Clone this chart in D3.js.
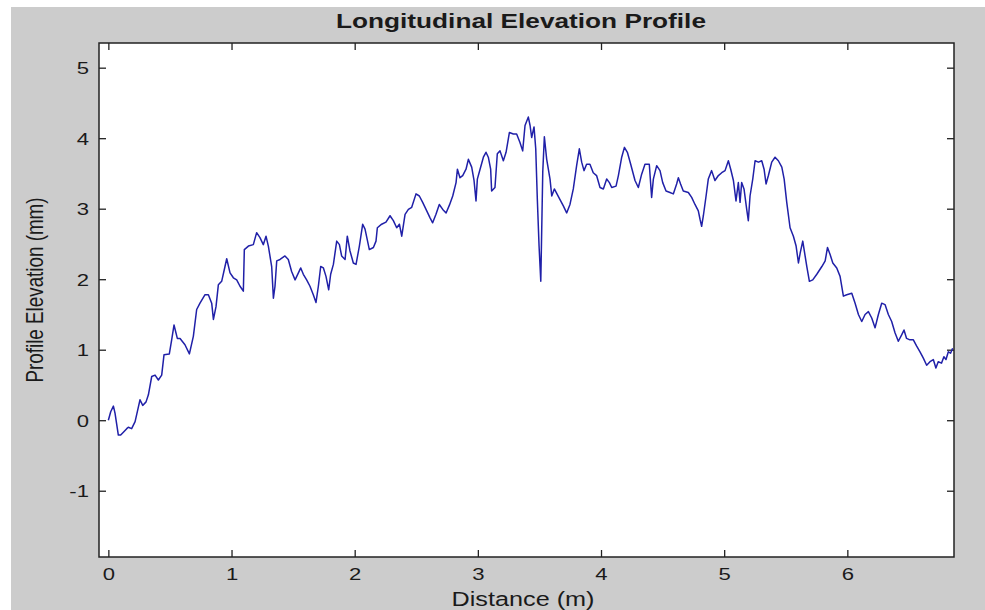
<!DOCTYPE html>
<html>
<head>
<meta charset="utf-8">
<script src="https://cdn.jsdelivr.net/npm/d3@7"></script>
<style>
  body { margin: 0; background: #fff; }
  text { font-family: "Liberation Sans", Arial, sans-serif; fill: #1a1a1a; }
</style>
</head>
<body>
<script>
// profile: distance (m) and elevation (mm)
var distance = [
  0.000, 0.019, 0.041, 0.054, 0.081, 0.100, 0.122, 0.149, 0.162, 0.189, 0.217, 0.244, 0.257, 0.279, 0.306, 0.325,
  0.352, 0.379, 0.406, 0.433, 0.452, 0.495, 0.514, 0.533, 0.560, 0.582, 0.622, 0.658, 0.690, 0.717, 0.744, 0.785,
  0.812, 0.839, 0.853, 0.874, 0.893, 0.920, 0.947, 0.961, 0.988, 1.015, 1.042, 1.069, 1.096, 1.104, 1.137, 1.177,
  1.204, 1.231, 1.258, 1.280, 1.299, 1.326, 1.340, 1.353, 1.367, 1.394, 1.434, 1.461, 1.488, 1.516, 1.543, 1.562,
  1.583, 1.610, 1.637, 1.664, 1.686, 1.705, 1.724, 1.746, 1.767, 1.789, 1.805, 1.827, 1.854, 1.876, 1.894, 1.922,
  1.940, 1.962, 1.989, 2.011, 2.038, 2.065, 2.084, 2.119, 2.152, 2.173, 2.184, 2.219, 2.254,
  2.287, 2.314, 2.341, 2.363, 2.382, 2.409, 2.436, 2.463, 2.498, 2.525, 2.552, 2.585, 2.612, 2.633, 2.660, 2.687,
  2.715, 2.742, 2.769, 2.796, 2.823, 2.834, 2.855, 2.877, 2.904, 2.923, 2.950, 2.969, 2.985, 2.996, 3.018, 3.045,
  3.066, 3.085, 3.104, 3.112, 3.139, 3.158, 3.180, 3.207, 3.229, 3.256, 3.288, 3.315, 3.342, 3.364, 3.383, 3.410,
  3.424, 3.437, 3.456, 3.470, 3.483, 3.497, 3.511, 3.527, 3.540, 3.559, 3.586, 3.600, 3.621, 3.667, 3.694, 3.721,
  3.748, 3.775, 3.802, 3.824, 3.843, 3.862, 3.883, 3.910, 3.937, 3.964, 3.992, 4.019, 4.046, 4.068, 4.087, 4.122,
  4.141, 4.168, 4.190, 4.214, 4.241, 4.276, 4.303, 4.330, 4.357, 4.392, 4.411, 4.425, 4.452, 4.479,
  4.501, 4.528, 4.560, 4.587, 4.614, 4.628, 4.646, 4.668, 4.709, 4.736, 4.763, 4.790, 4.804, 4.817, 4.831, 4.853,
  4.871, 4.898, 4.925, 4.953, 4.980, 5.007, 5.034, 5.053, 5.075, 5.096, 5.115, 5.129, 5.142, 5.161, 5.183, 5.196,
  5.210, 5.232, 5.251, 5.278, 5.305, 5.324, 5.340, 5.359, 5.386, 5.413, 5.440, 5.468, 5.487, 5.508, 5.535, 5.562,
  5.584, 5.603, 5.617, 5.638, 5.657, 5.671, 5.692, 5.719, 5.752, 5.793, 5.820, 5.839, 5.860, 5.882, 5.914, 5.941,
  5.968, 5.995, 6.036, 6.063, 6.090, 6.117, 6.144, 6.171, 6.198, 6.225, 6.252, 6.279, 6.306, 6.333, 6.360, 6.387,
  6.414, 6.441, 6.460, 6.481, 6.508, 6.536, 6.563, 6.590, 6.617, 6.644, 6.671, 6.698, 6.719, 6.738, 6.765, 6.784,
  6.801, 6.820, 6.838, 6.855
];
var elevation = [
  0.00, 0.12, 0.20, 0.10, -0.21, -0.21, -0.17, -0.12, -0.10, -0.12, -0.02, 0.19, 0.29, 0.21, 0.26, 0.36,
  0.62, 0.64, 0.57, 0.64, 0.93, 0.94, 1.14, 1.35, 1.16, 1.16, 1.07, 0.94, 1.19, 1.57, 1.66, 1.78,
  1.78, 1.66, 1.43, 1.61, 1.92, 1.97, 2.18, 2.29, 2.09, 2.02, 1.99, 1.90, 1.83, 2.42, 2.47, 2.49,
  2.66, 2.59, 2.49, 2.61, 2.47, 2.18, 1.73, 1.90, 2.26, 2.28, 2.33, 2.28, 2.11, 1.99, 2.09, 2.16,
  2.07, 1.99, 1.90, 1.78, 1.67, 1.90, 2.18, 2.16, 2.04, 1.85, 2.07, 2.21, 2.54, 2.49, 2.33, 2.28,
  2.61, 2.40, 2.23, 2.21, 2.47, 2.78, 2.71, 2.42, 2.45, 2.54, 2.73, 2.78, 2.81,
  2.90, 2.83, 2.73, 2.78, 2.61, 2.92, 2.99, 3.02, 3.21, 3.18, 3.09, 2.97, 2.87, 2.80, 2.92, 3.06,
  2.99, 2.94, 3.05, 3.18, 3.37, 3.56, 3.44, 3.47, 3.56, 3.70, 3.59, 3.40, 3.11, 3.42, 3.56, 3.73,
  3.80, 3.73, 3.56, 3.25, 3.30, 3.78, 3.82, 3.68, 3.80, 4.08, 4.06, 4.06, 3.94, 3.82, 4.18, 4.30,
  4.18, 4.01, 4.16, 3.85, 3.13, 2.47, 1.97, 3.52, 4.02, 3.70, 3.42, 3.18, 3.28, 3.13, 3.04, 2.94,
  3.06, 3.28, 3.61, 3.85, 3.66, 3.54, 3.63, 3.63, 3.51, 3.47, 3.30, 3.28, 3.42, 3.37, 3.30, 3.32,
  3.47, 3.73, 3.87, 3.80, 3.63, 3.40, 3.30, 3.49, 3.63, 3.63, 3.16, 3.42, 3.61, 3.54,
  3.37, 3.25, 3.23, 3.21, 3.35, 3.44, 3.35, 3.25, 3.23, 3.16, 3.06, 2.97, 2.85, 2.75, 2.90, 3.18,
  3.42, 3.54, 3.40, 3.47, 3.51, 3.54, 3.68, 3.56, 3.40, 3.11, 3.37, 3.09, 3.37, 3.28, 2.99, 2.83,
  3.18, 3.42, 3.68, 3.66, 3.68, 3.56, 3.35, 3.47, 3.66, 3.73, 3.68, 3.59, 3.42, 3.09, 2.73, 2.61,
  2.47, 2.23, 2.37, 2.54, 2.33, 2.18, 1.97, 1.99, 2.07, 2.18, 2.26, 2.45, 2.35, 2.23, 2.16, 2.04,
  1.76, 1.78, 1.80, 1.66, 1.50, 1.40, 1.50, 1.54, 1.45, 1.31, 1.50, 1.66, 1.64, 1.50, 1.40, 1.24,
  1.12, 1.21, 1.28, 1.16, 1.14, 1.14, 1.05, 0.97, 0.88, 0.78, 0.83, 0.86, 0.74, 0.83, 0.81, 0.90,
  0.86, 0.97, 0.95, 1.02
];
var xTicks = [0, 1, 2, 3, 4, 5, 6];
var yTicks = [-1, 0, 1, 2, 3, 4, 5];

var W = 985, H = 610;
var box = {left: 99, top: 43, right: 954, bottom: 557};
var sx = 1.3; // the picture's text is stretched sideways

var svg = d3.select("body").append("svg").attr("width", W).attr("height", H);

// figure background
svg.append("rect").attr("x", 11).attr("y", 7).attr("width", W - 11).attr("height", H - 7).attr("fill", "#cccccc");
svg.append("rect").attr("x", box.left).attr("y", box.top)
  .attr("width", box.right - box.left).attr("height", box.bottom - box.top).attr("fill", "#fff");

var x = d3.scaleLinear().domain([-0.076, 6.866]).range([box.left, box.right]);
var y = d3.scaleLinear().domain([-1.94, 5.35]).range([box.bottom, box.top]);

// plain hyphen for negatives, like the original
var fmt = function(d) { return String(d); };

// axes: ticks point inward, mirrored on top and right
function styleAxis(g) {
  g.select(".domain").remove();
  g.selectAll(".tick line").attr("stroke", "#222").attr("stroke-width", 1.3);
}
var gx = svg.append("g").attr("transform", "translate(0," + box.bottom + ")")
  .call(d3.axisBottom(x).tickValues(xTicks).tickSize(-7).tickFormat(fmt))
  .call(styleAxis);
gx.selectAll(".tick text").attr("y", 23).attr("dy", null)
  .attr("transform", "scale(" + sx + ",1)")
  .style("font-size", "17px").attr("fill", "#1a1a1a");

svg.append("g").attr("transform", "translate(0," + box.top + ")")
  .call(d3.axisTop(x).tickValues(xTicks).tickSize(-7).tickFormat(""))
  .call(styleAxis);

var gy = svg.append("g").attr("transform", "translate(" + box.left + ",0)")
  .call(d3.axisLeft(y).tickValues(yTicks).tickSize(-7).tickFormat(fmt))
  .call(styleAxis);
gy.selectAll(".tick text").attr("x", -10 / sx).attr("dy", "0.36em")
  .attr("transform", "scale(" + sx + ",1)")
  .style("font-size", "17px").attr("fill", "#1a1a1a");

svg.append("g").attr("transform", "translate(" + box.right + ",0)")
  .call(d3.axisRight(y).tickValues(yTicks).tickSize(-7).tickFormat(""))
  .call(styleAxis);

// plot box
svg.append("rect").attr("x", box.left).attr("y", box.top)
  .attr("width", box.right - box.left).attr("height", box.bottom - box.top)
  .attr("fill", "none").attr("stroke", "#222").attr("stroke-width", 1.5);

// profile line
var line = d3.line().x(function(d, i) { return x(distance[i]); }).y(function(d) { return y(d); });
svg.append("path").datum(elevation)
  .attr("d", line)
  .attr("fill", "none")
  .attr("stroke", "#2020a8")
  .attr("stroke-width", 1.5)
  .attr("stroke-linejoin", "round");

// labels
svg.append("text").attr("x", 521).attr("y", 28)
  .attr("text-anchor", "middle")
  .attr("textLength", 370).attr("lengthAdjust", "spacingAndGlyphs")
  .style("font-size", "19.5px").style("font-weight", "bold")
  .text("Longitudinal Elevation Profile");

svg.append("text").attr("x", 523).attr("y", 606)
  .attr("text-anchor", "middle")
  .attr("textLength", 143).attr("lengthAdjust", "spacingAndGlyphs")
  .style("font-size", "20px")
  .text("Distance (m)");

svg.append("text")
  .attr("transform", "translate(43,290) scale(" + sx + ",1) rotate(-90)")
  .attr("text-anchor", "middle")
  .attr("textLength", 185).attr("lengthAdjust", "spacingAndGlyphs")
  .style("font-size", "18.8px")
  .text("Profile Elevation (mm)");
</script>
</body>
</html>
